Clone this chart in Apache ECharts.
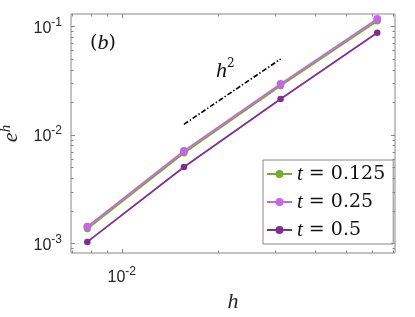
<!DOCTYPE html>
<html><head><meta charset="utf-8">
<script src="https://cdn.jsdelivr.net/npm/echarts@6/dist/echarts.min.js"></script>
<style>html,body{margin:0;padding:0;background:#fff}#c{width:415px;height:317px}</style>
</head><body><div id="c"></div>
<script>
// ---- data ----
const hValues = [1/128, 1/64, 1/32, 1/16];
const errT0125 = [1.36e-3, 6.8e-3, 0.0283, 0.112];
const errT025  = [1.42e-3, 7.1e-3, 0.0294, 0.117];
const errT05   = [1.03e-3, 5.05e-3, 0.0214, 0.0873];
const refH = [1/64, 1/32];
const refE = [0.0125, 0.05];
const seriesNames = ['t = 0.125', 't = 0.25', 't = 0.5'];
const xMajorTicks = [0.01];
const xMinorTicks = [0.007, 0.008, 0.009, 0.02, 0.03, 0.04, 0.05, 0.06, 0.07];
const yMajorTicks = [0.001, 0.01, 0.1];
const yMinorTicks = [0.0009, 0.002, 0.003, 0.004, 0.005, 0.006, 0.007, 0.008, 0.009,
                     0.02, 0.03, 0.04, 0.05, 0.06, 0.07, 0.08, 0.09];
const X_MIN = 0.00695, X_MAX = 0.0710, Y_MIN = 0.000814, Y_MAX = 0.13;

// ---- build ----
const zip = (xs, ys) => xs.map((x, i) => [x, ys[i]]);
const colors = ['#77AC30', '#C864E6', '#7E2F8E'];
const tickData = [];
xMajorTicks.forEach(v => tickData.push([v, Y_MIN, 0, 1]));
xMinorTicks.forEach(v => tickData.push([v, Y_MIN, 0, 0]));
yMajorTicks.forEach(v => tickData.push([X_MIN, v, 1, 1]));
yMinorTicks.forEach(v => tickData.push([X_MIN, v, 1, 0]));

const AX = '#888';
function renderTick(params, api) {
  const isY = api.value(2) === 1, major = api.value(3) === 1;
  const len = major ? 4 : 2.5;
  const st = {stroke: AX, lineWidth: 1};
  if (!isY) {
    const v = api.value(0);
    const a = api.coord([v, Y_MIN]), b = api.coord([v, Y_MAX]);
    const x = Math.round(a[0]) + 0.5;
    return {type: 'group', children: [
      {type: 'line', shape: {x1: x, y1: a[1], x2: x, y2: a[1] - len}, style: st},
      {type: 'line', shape: {x1: x, y1: b[1], x2: x, y2: b[1] + len}, style: st}
    ]};
  } else {
    const v = api.value(1);
    const a = api.coord([X_MIN, v]), b = api.coord([X_MAX, v]);
    const y = Math.round(a[1]) + 0.5;
    return {type: 'group', children: [
      {type: 'line', shape: {x1: a[0], y1: y, x2: a[0] + len, y2: y}, style: st},
      {type: 'line', shape: {x1: b[0], y1: y, x2: b[0] - len, y2: y}, style: st}
    ]};
  }
}
function powLabel(v) {
  const l = Math.log10(v), e = Math.round(l);
  if (Math.abs(l - e) > 1e-6) return '';
  return '{b|10}{s|' + e + '}';
}
const labelRich = {
  b: {fontFamily: 'Liberation Sans', fontSize: 16, color: '#262626', verticalAlign: 'bottom', lineHeight: 20},
  s: {fontFamily: 'Liberation Sans', fontSize: 12, color: '#262626', verticalAlign: 'top', lineHeight: 20}
};
const mathFont = 'Liberation Serif';
const numFont = 'DejaVu Serif';

const series = [errT0125, errT025, errT05].map((d, i) => ({
  name: seriesNames[i], type: 'line', data: zip(hValues, d),
  symbol: 'circle', symbolSize: [7, 8, 6.5][i], color: colors[i],
  lineStyle: {width: 1.8, color: colors[i]}, itemStyle: {color: colors[i]},
  z: [3, 4, 3][i], animation: false
}));
series.push({
  name: 'ref', type: 'line', data: zip(refH, refE), symbol: 'none',
  lineStyle: {color: '#000', width: 1.6, type: [5, 2, 1.5, 2]}, animation: false, z: 2
});
series.push({
  name: 'ticks', type: 'custom', data: tickData, renderItem: renderTick,
  silent: true, clip: false, z: 5, animation: false
});

const chart = echarts.init(document.getElementById('c'), null, {renderer: 'canvas'});
chart.setOption({
  animation: false,
  backgroundColor: '#fff',
  grid: {left: 71, top: 14, right: 20, bottom: 64, containLabel: false, outerBoundsMode: 'none',
         show: true, borderColor: AX, borderWidth: 1, backgroundColor: 'transparent'},
  xAxis: {
    type: 'log', logBase: 10, min: X_MIN, max: X_MAX,
    axisLine: {show: false}, axisTick: {show: false}, splitLine: {show: false}, minorTick: {show: false},
    axisLabel: {formatter: powLabel, margin: 13, showMinLabel: false, showMaxLabel: false, rich: labelRich},
    name: '{i|h}', nameLocation: 'middle', nameGap: 38,
    nameTextStyle: {rich: {i: {fontFamily: mathFont, fontStyle: 'italic', fontSize: 22, color: '#262626'}}}
  },
  yAxis: {
    type: 'log', logBase: 10, min: Y_MIN, max: Y_MAX,
    axisLine: {show: false}, axisTick: {show: false}, splitLine: {show: false}, minorTick: {show: false},
    axisLabel: {formatter: powLabel, margin: 9, showMinLabel: false, showMaxLabel: false, rich: labelRich},
    name: '{i|e}{s|h}', nameLocation: 'middle', nameGap: 40,
    nameTextStyle: {rich: {
      i: {fontFamily: mathFont, fontStyle: 'italic', fontSize: 22, color: '#262626', verticalAlign: 'bottom', lineHeight: 24},
      s: {fontFamily: mathFont, fontStyle: 'italic', fontSize: 15, color: '#262626', verticalAlign: 'top', lineHeight: 24}
    }}
  },
  legend: {
    data: seriesNames, orient: 'vertical', left: 263, top: 160,
    padding: [3, 8, 3, 3], itemGap: 6, itemWidth: 25, itemHeight: 10,
    backgroundColor: '#fff', borderColor: AX, borderWidth: 1, borderRadius: 0,
    formatter: n => '{i|t}{r| = ' + n.split('= ')[1] + '}',
    textStyle: {lineHeight: 22, rich: {
      i: {fontFamily: mathFont, fontStyle: 'italic', fontSize: 21, color: '#111', lineHeight: 22},
      r: {fontFamily: numFont, fontSize: 19, color: '#111', lineHeight: 22}
    }}
  },
  graphic: [
    {type: 'text', left: 90, top: 32, style: {
      text: '{r|(}{i|b}{r|)}',
      rich: {r: {fontFamily: numFont, fontSize: 19, fill: '#111'}, i: {fontFamily: mathFont, fontStyle: 'italic', fontSize: 22, fill: '#111'}}
    }},
    {type: 'text', left: 216, top: 58, style: {
      text: '{i|h}{s|2}',
      rich: {i: {fontFamily: mathFont, fontStyle: 'italic', fontSize: 22, fill: '#111', verticalAlign: 'bottom', lineHeight: 24},
             s: {fontFamily: numFont, fontSize: 12, fill: '#111', verticalAlign: 'top', lineHeight: 24}}
    }}
  ],
  series: series
});
</script></body></html>
